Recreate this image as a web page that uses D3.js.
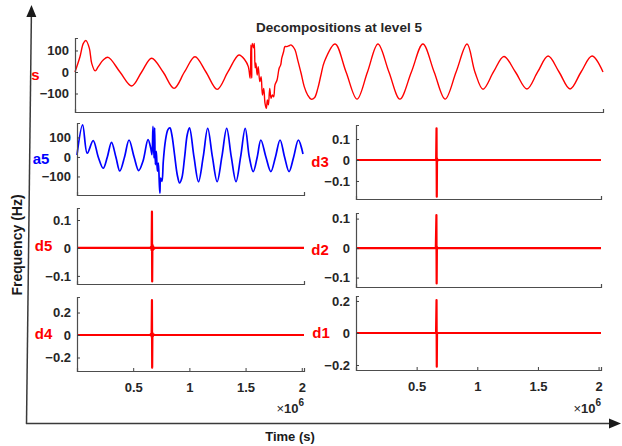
<!DOCTYPE html>
<html>
<head>
<meta charset="utf-8">
<title>Decompositions at level 5</title>
<style>
body { margin: 0; background: #fff; }
svg { display: block; font-family: "Liberation Sans", Arial, sans-serif; font-weight: bold; }
.tick text { fill: #262626; font-size: 13px; }
.tick line { stroke: #404040; }
.domain { stroke: #4d4d4d; stroke-width: 1.2px; }
</style>
</head>
<body>
<svg id="chart" width="622" height="446"></svg>
<script src="https://d3js.org/d3.v7.min.js"></script>
<script>
// time axis in units of 1e6 s (axis shows x10^6)
const sTime = [0, 0.019, 0.032, 0.042, 0.055, 0.064, 0.077, 0.089, 0.108, 0.127, 0.172, 0.217, 0.255, 0.293,
    0.337, 0.379, 0.419, 0.459, 0.501, 0.544, 0.585, 0.627, 0.650, 0.663, 0.670, 0.673, 0.676, 0.678, 0.683,
    0.686, 0.689, 0.692, 0.697, 0.701, 0.707, 0.712, 0.717, 0.722, 0.727, 0.732, 0.736, 0.740, 0.745, 0.750,
    0.755, 0.760, 0.765, 0.773, 0.781, 0.787, 0.791, 0.798, 0.803, 0.810, 0.819, 0.826, 0.834, 0.842, 0.852,
    0.865, 0.877, 0.890, 0.903, 0.916, 0.929, 0.941, 0.954, 0.995, 1.037, 1.079, 1.119, 1.159, 1.201, 1.243,
    1.287, 1.331, 1.374, 1.416, 1.458, 1.500, 1.530, 1.561, 1.601, 1.641, 1.685, 1.729, 1.770, 1.810, 1.852,
    1.894, 1.936, 1.978, 2.020];
const sValue = [0, 71, 133, 146, 110, 40, 5, 25, 56, 68, 0, -65, 0, 64,
    0, -76, 0, 71, 0, -81, 0, 79, 56, 25, -29, 126, -28, 133, 112,
    133, 19, 42, -14, 25, -45, -22, -107, -76, -146, -169, -130, -153, -76, -122,
    -107, -115, -60, -37, 17, 33, 64, 94, 118, 118, 122, 126, 118, 102, 56,
    -6, -68, -107, -126, -120, -76, -14, 48, 130, 0, -126, 0, 130, 0, -126,
    0, 130, 0, -126, 0, 130, 0, -80, 0, 72, 0, -79, 0, 74, 0,
    -79, 0, 74, 0];

const a5Time = [0, 0.050, 0.091, 0.144, 0.189, 0.233, 0.270, 0.307, 0.346, 0.381, 0.423, 0.463, 0.508, 0.549,
    0.587, 0.632, 0.656, 0.667, 0.676, 0.685, 0.691, 0.697, 0.706, 0.715, 0.724, 0.733, 0.738, 0.744, 0.756,
    0.768, 0.786, 0.809, 0.827, 0.844, 0.868, 0.892, 0.913, 0.933, 0.957, 0.981, 1.001, 1.041, 1.081, 1.123,
    1.163, 1.205, 1.247, 1.289, 1.332, 1.373, 1.415, 1.456, 1.497, 1.533, 1.568, 1.604, 1.636, 1.681, 1.725,
    1.766, 1.807, 1.847, 1.887, 1.928, 1.970, 2.011];
const a5Value = [10, 164, 19, 84, 0, -58, 0, 75, 0, -72, 0, 87, 0, -70,
    -22, 89, 46, 12, 157, -5, 149, -39, 29, -73, -31, -142, -185, -108, -125,
    -22, 80, 140, 149, 114, 12, -91, -133, -108, -5, 114, 149, 0, -127, 0,
    147, 0, -127, 0, 147, 0, -127, 0, 147, 0, -75, 0, 87, 0, -75,
    0, 87, 0, -75, 0, 87, 15];

const d5Time = [0, 0.650, 0.660, 0.664, 0.667, 0.669, 0.671, 0.674, 0.678, 0.684, 0.695, 2.02];
const d5Value = [0, 0, 0.004, -0.008, 0.13, -0.12, 0.012, -0.009, 0.006, -0.003, 0, 0];
const d4Time = [0, 0.650, 0.660, 0.664, 0.667, 0.669, 0.671, 0.674, 0.680, 0.690, 2.02];
const d4Value = [0, 0, 0.01, -0.015, 0.31, -0.29, 0.02, -0.012, 0.006, 0, 0];
const d3Time = [0, 0.655, 0.661, 0.664, 0.666, 0.668, 0.671, 0.676, 2.02];
const d3Value = [0, 0, 0.006, 0.151, -0.175, 0.008, -0.005, 0, 0];
const d2Time = [0, 0.658, 0.663, 0.665, 0.667, 0.670, 2.02];
const d2Value = [0, 0, 0.112, -0.12, 0.004, 0, 0];
const d1Time = [0, 0.660, 0.664, 0.666, 0.668, 2.02];
const d1Value = [0, 0, 0.206, -0.21, 0, 0];

const bigTicks = [-100, 0, 100];
const smallTicks = [-0.1, 0, 0.1];
const midTicks = [-0.2, 0, 0.2];
const timeTicks = [0.5, 1, 1.5, 2];

const red = "#ff0000", blue = "#0000ff";
const smooth = d3.curveCatmullRom.alpha(0.5);

const panels = [
    {label: "s", t: sTime, v: sValue, color: red, w: 1.4, curve: smooth,
        box: [75, 603, 38, 112], yDom: [-186, 158], yTicks: bigTicks, labelX: 35.5, xAxis: false},
    {label: "a5", t: a5Time, v: a5Value, color: blue, w: 1.7, curve: smooth,
        box: [77, 304, 123, 195], yDom: [-195, 174], yTicks: bigTicks, labelX: 41, xAxis: false},
    {label: "d5", t: d5Time, v: d5Value, color: red, w: 2.2, curve: d3.curveLinear,
        box: [77, 304, 208, 284], yDom: [-0.129, 0.143], yTicks: smallTicks, labelX: 43.5, xAxis: false},
    {label: "d4", t: d4Time, v: d4Value, color: red, w: 2.2, curve: d3.curveLinear,
        box: [77, 304, 297, 371], yDom: [-0.32, 0.338], yTicks: midTicks, labelX: 43.5, xAxis: true},
    {label: "d3", t: d3Time, v: d3Value, color: red, w: 2.2, curve: d3.curveLinear,
        box: [356, 601, 125, 199], yDom: [-0.186, 0.167], yTicks: smallTicks, labelX: 320, xAxis: false},
    {label: "d2", t: d2Time, v: d2Value, color: red, w: 2.2, curve: d3.curveLinear,
        box: [356, 601, 213, 287], yDom: [-0.132, 0.119], yTicks: smallTicks, labelX: 320, xAxis: false},
    {label: "d1", t: d1Time, v: d1Value, color: red, w: 2.2, curve: d3.curveLinear,
        box: [356, 601, 296, 370], yDom: [-0.231, 0.231], yTicks: midTicks, labelX: 321, xAxis: true}
];

const svg = d3.select("#chart");

panels.forEach(function(p) {
    const [x0, x1, y0, y1] = p.box;
    const x = d3.scaleLinear().domain([0, 2.02]).range([x0, x1]);
    const y = d3.scaleLinear().domain(p.yDom).range([y1, y0]);
    const g = svg.append("g");

    const points = p.t.map(function(t, i) { return {t: t, v: p.v[i]}; });
    const line = d3.line()
        .x(function(d) { return x(d.t); })
        .y(function(d) { return y(d.v); })
        .curve(p.curve);

    g.append("path")
        .datum(points)
        .attr("fill", "none")
        .attr("stroke", p.color)
        .attr("stroke-width", p.w)
        .attr("stroke-linejoin", "round")
        .attr("d", line);

    const xAxis = d3.axisBottom(x).tickSizeOuter(0).tickSize(-3).tickPadding(12);
    if (p.xAxis) {
        xAxis.tickValues(timeTicks).tickFormat(d3.format(""));
    } else {
        xAxis.tickValues([]);
    }
    g.append("g")
        .attr("transform", "translate(0," + y1 + ")")
        .call(xAxis);

    g.append("g")
        .attr("transform", "translate(" + x0 + ",0)")
        .call(d3.axisLeft(y).tickValues(p.yTicks).tickSizeOuter(0).tickSize(-3).tickPadding(6)
            .tickFormat(d3.format("")));

    g.append("text")
        .attr("x", p.labelX)
        .attr("y", (y0 + y1) / 2)
        .attr("dy", "0.35em")
        .attr("text-anchor", "middle")
        .attr("fill", p.color)
        .style("font-size", "15px")
        .text(p.label);

    if (p.xAxis) {
        const e = g.append("text")
            .attr("x", x1)
            .attr("y", 413)
            .attr("text-anchor", "end")
            .attr("fill", "#262626")
            .style("font-size", "13px");
        e.append("tspan").style("font-weight", "normal").text("\u00d7");
        e.append("tspan").text("10");
        e.append("tspan").attr("dy", -7).style("font-size", "10px").text("6");
    }
});

// title
svg.append("text")
    .attr("x", 339)
    .attr("y", 32)
    .attr("text-anchor", "middle")
    .attr("fill", "#262626")
    .style("font-size", "13.5px")
    .text("Decompositions at level 5");

// outer arrows
function arrow(xa, ya, xb, yb) {
    const len = Math.hypot(xb - xa, yb - ya);
    const ux = (xb - xa) / len, uy = (yb - ya) / len;
    const bx = xb - ux * 12, by = yb - uy * 12;
    svg.append("line")
        .attr("x1", xa).attr("y1", ya).attr("x2", bx).attr("y2", by)
        .attr("stroke", "#3a3a3a").attr("stroke-width", 1.5);
    svg.append("path")
        .attr("d", "M" + xb + "," + yb +
            "L" + (bx - uy * 5) + "," + (by + ux * 5) +
            "L" + (bx + uy * 5) + "," + (by - ux * 5) + "Z")
        .attr("fill", "#1a1a1a");
}
arrow(26.5, 424, 31.5, 5);
arrow(26, 423.5, 621, 423.5);

svg.append("text")
    .attr("transform", "translate(22,245) rotate(-90)")
    .attr("text-anchor", "middle")
    .attr("fill", "#1a1a1a")
    .style("font-size", "14px")
    .text("Frequency (Hz)");

svg.append("text")
    .attr("x", 290)
    .attr("y", 441)
    .attr("text-anchor", "middle")
    .attr("fill", "#1a1a1a")
    .style("font-size", "13px")
    .text("Time (s)");
</script>
</body>
</html>
